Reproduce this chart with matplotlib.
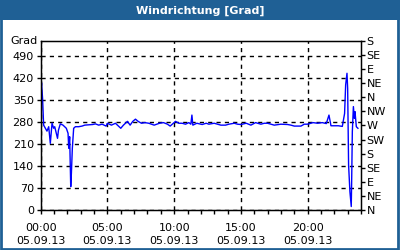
import matplotlib
matplotlib.use('Agg')
import matplotlib.pyplot as plt
from matplotlib.patches import Rectangle

# wind direction readings, hours since 05.09.13 00:00
hours = [0.00, 0.03, 0.06, 0.14, 0.22, 0.35, 0.47, 0.60, 0.72, 0.85, 0.97, 1.05,
         1.26, 1.33, 1.47, 1.67, 1.92, 2.05, 2.10, 2.17, 2.25, 2.30, 2.37, 2.47,
         2.60, 2.85, 3.10, 3.30, 3.60, 3.90, 4.10, 4.35, 4.60, 4.90, 5.00, 5.30,
         5.60, 6.00, 6.20, 6.50, 6.70, 6.90, 7.10, 7.30, 7.55, 7.80, 8.10, 8.50,
         8.90, 9.20, 9.50, 9.70, 10.10, 10.35, 10.60, 10.85, 11.10, 11.25, 11.33,
         11.40, 11.70, 12.10, 12.40, 12.60, 13.00, 13.25, 13.50, 13.85, 14.10,
         14.50, 14.75, 15.00, 15.40, 15.75, 16.10, 16.50, 16.75, 17.00, 17.25,
         17.50, 18.00, 18.50, 18.75, 19.00, 19.50, 19.75, 20.00, 20.40, 20.75,
         21.10, 21.40, 21.60, 21.75, 22.00, 22.30, 22.60, 22.77, 22.85, 22.95,
         23.00, 23.07, 23.17, 23.27, 23.30, 23.35, 23.43, 23.50, 23.55, 23.65, 23.77]
grad = [321, 377, 406, 356, 271, 261, 252, 266, 213, 277, 261, 266,
        229, 255, 275, 271, 261, 245, 197, 234, 75, 118, 197, 261,
        266, 266, 268, 271, 272, 273, 275, 271, 274, 268, 277, 271,
        277, 261, 271, 283, 271, 283, 290, 283, 277, 279, 277, 271,
        277, 279, 274, 268, 283, 277, 277, 274, 279, 274, 303,
        271, 277, 273, 277, 274, 277, 274, 271, 271, 274,
        277, 274, 273, 277, 271, 279, 274, 277, 277, 274,
        271, 274, 273, 271, 268, 268, 274, 274, 279, 277,
        279, 276, 303, 269, 269, 269, 267, 308, 399, 436,
        388, 144, 59, 12, 91, 250, 330, 293, 314, 266, 261]

left_ticks = [0, 70, 140, 210, 280, 350, 420, 490]
compass_ticks = [0, 45, 90, 135, 180, 225, 270, 315, 360, 405, 450, 495, 540]
compass_labels = ['N', 'NE', 'E', 'SE', 'S', 'SW', 'W', 'NW', 'N', 'NE', 'E', 'SE', 'S']
x_ticks = [0, 5, 10, 15, 20]
x_labels = ['00:00\n05.09.13', '05:00\n05.09.13', '10:00\n05.09.13',
            '15:00\n05.09.13', '20:00\n05.09.13']

blue = '#1f6095'
plt.rcParams['font.family'] = 'DejaVu Sans'
plt.rcParams['font.size'] = 8

fig = plt.figure(figsize=(4, 2.5), dpi=100)
fig.patch.set_facecolor('white')

# title bar and window border
fig.patches.append(Rectangle((0, 1 - 20 / 250), 1, 20 / 250, transform=fig.transFigure,
                             facecolor=blue, edgecolor='none', zorder=0))
fig.patches.append(Rectangle((1 / 400, 1 / 250), 397 / 400, 248 / 250, transform=fig.transFigure,
                             facecolor='none', edgecolor=blue, linewidth=2, zorder=0))
fig.text(0.5, 1 - 10.5 / 250, 'Windrichtung [Grad]', color='white', fontweight='bold',
         ha='center', va='center', fontsize=8)

ax = fig.add_axes([40.7 / 400, 1 - 210.3 / 250, 320.3 / 400, 169.7 / 250])
ax.plot(hours, grad, color='#0000ff', linewidth=1)
ax.set_xlim(0, 24)
ax.set_ylim(0, 540)
ax.set_yticks(left_ticks)
ax.set_xticks(x_ticks)
ax.set_xticklabels(x_labels, linespacing=1.35)
ax.set_xticks(range(25), minor=True)
ax.tick_params(direction='out', length=3, width=1, colors='black', pad=2)
ax.tick_params(axis='x', which='both', pad=6)
ax.tick_params(axis='x', which='minor', length=3, width=1)
ax.grid(True, color='black', linestyle=(0, (3, 3)), linewidth=1)
for s in ax.spines.values():
    s.set_linewidth(1)
ax.text(-0.01, 1.0, 'Grad', transform=ax.transAxes, ha='right', va='center')

ax2 = ax.twinx()
ax2.set_ylim(0, 540)
ax2.set_yticks(compass_ticks)
ax2.set_yticklabels(compass_labels)
ax2.tick_params(direction='out', length=3, width=1, pad=1)

fig.savefig('out.png', dpi=100)
